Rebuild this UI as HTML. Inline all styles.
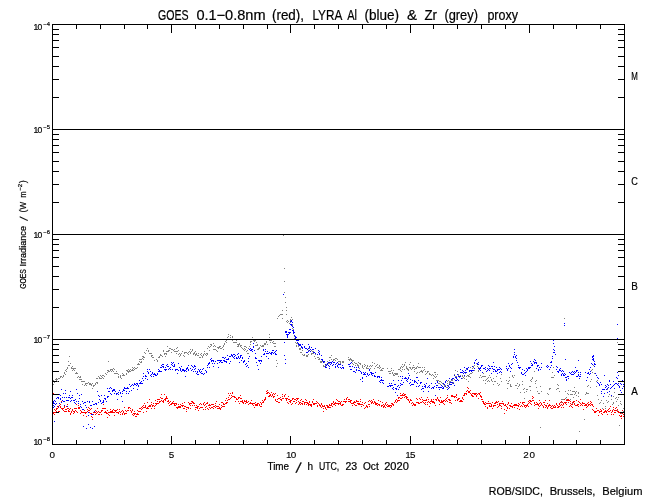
<!DOCTYPE html>
<html><head><meta charset="utf-8"><title>GOES / LYRA proxy</title>
<style>
html,body{margin:0;padding:0;background:#fff;}
svg{display:block;}
text{font-family:"Liberation Sans", sans-serif;fill:#000;stroke:#000;stroke-width:0.2px;}
text.t{stroke-width:0.12px;}
</style></head>
<body>
<svg width="650" height="500" viewBox="0 0 650 500">
<rect width="650" height="500" fill="#fff"/>
<g shape-rendering="crispEdges" fill="none" stroke-width="1">
<path stroke="#000" d="M53 97.5h6M618 97.5h6M53 79.5h6M618 79.5h6M53 66.5h6M618 66.5h6M53 56.5h6M618 56.5h6M53 47.5h6M618 47.5h6M53 40.5h6M618 40.5h6M53 34.5h6M618 34.5h6M53 29.5h6M618 29.5h6M53 202.5h6M618 202.5h6M53 184.5h6M618 184.5h6M53 171.5h6M618 171.5h6M53 161.5h6M618 161.5h6M53 152.5h6M618 152.5h6M53 145.5h6M618 145.5h6M53 139.5h6M618 139.5h6M53 134.5h6M618 134.5h6M53 307.5h6M618 307.5h6M53 289.5h6M618 289.5h6M53 276.5h6M618 276.5h6M53 266.5h6M618 266.5h6M53 257.5h6M618 257.5h6M53 250.5h6M618 250.5h6M53 244.5h6M618 244.5h6M53 239.5h6M618 239.5h6M53 412.5h6M618 412.5h6M53 394.5h6M618 394.5h6M53 381.5h6M618 381.5h6M53 371.5h6M618 371.5h6M53 362.5h6M618 362.5h6M53 355.5h6M618 355.5h6M53 349.5h6M618 349.5h6M53 344.5h6M618 344.5h6M52.5 25v8M52.5 444v-8M76.5 25v4M76.5 444v-4M100.5 25v4M100.5 444v-4M124.5 25v4M124.5 444v-4M147.5 25v4M147.5 444v-4M171.5 25v8M171.5 444v-8M195.5 25v4M195.5 444v-4M219.5 25v4M219.5 444v-4M243.5 25v4M243.5 444v-4M267.5 25v4M267.5 444v-4M290.5 25v8M290.5 444v-8M314.5 25v4M314.5 444v-4M338.5 25v4M338.5 444v-4M362.5 25v4M362.5 444v-4M386.5 25v4M386.5 444v-4M410.5 25v8M410.5 444v-8M433.5 25v4M433.5 444v-4M457.5 25v4M457.5 444v-4M481.5 25v4M481.5 444v-4M505.5 25v4M505.5 444v-4M529.5 25v8M529.5 444v-8M553.5 25v4M553.5 444v-4M576.5 25v4M576.5 444v-4M600.5 25v4M600.5 444v-4M624.5 25v4M624.5 444v-4"/>
<path stroke="#808080" d="M283 235.5h1M284 268.5h1M284 281.5h1M284 292.5h1M285 297.5h1M285 302.5h1M286 307.5h1M282 310.5h1M286 310.5h1M280 314.5h3M286 314.5h1M279 315.5h1M278 316.5h1M291 317.5h1M277 318.5h1M282 318.5h1M564 318.5h1M290 319.5h1M292 319.5h1M287 320.5h1M290 320.5h2M286 321.5h1M288 321.5h1M287 322.5h1M290 322.5h1M289 323.5h1M292 324.5h1M292 325.5h1M292 328.5h1M293 329.5h1M228 334.5h1M269 334.5h1M230 335.5h1M294 335.5h1M228 336.5h1M232 336.5h1M294 336.5h1M227 337.5h1M230 337.5h1M232 337.5h1M252 337.5h1M269 337.5h1M294 338.5h2M225 339.5h1M227 339.5h1M229 339.5h1M231 339.5h1M233 339.5h1M252 339.5h2M268 339.5h2M226 340.5h1M232 340.5h1M236 340.5h1M253 340.5h3M269 340.5h3M225 341.5h1M250 341.5h2M254 341.5h1M266 341.5h1M273 341.5h1M226 342.5h1M233 342.5h4M250 342.5h1M256 342.5h1M266 342.5h1M270 342.5h1M272 342.5h1M295 342.5h1M617 342.5h1M213 343.5h1M224 343.5h1M239 343.5h1M264 343.5h2M273 343.5h3M296 343.5h2M210 344.5h2M224 344.5h1M237 344.5h3M250 344.5h1M257 344.5h1M264 344.5h2M267 344.5h1M211 345.5h1M214 345.5h1M223 345.5h1M238 345.5h1M240 345.5h2M255 345.5h3M260 345.5h1M262 345.5h2M296 345.5h1M298 345.5h1M167 346.5h1M208 346.5h1M210 346.5h1M213 346.5h1M215 346.5h1M219 346.5h2M223 346.5h1M237 346.5h2M240 346.5h1M244 346.5h2M249 346.5h1M261 346.5h3M274 346.5h2M296 346.5h1M298 346.5h1M177 347.5h1M209 347.5h1M217 347.5h3M222 347.5h1M241 347.5h1M246 347.5h1M259 347.5h1M147 348.5h1M169 348.5h2M176 348.5h1M207 348.5h1M218 348.5h1M220 348.5h2M242 348.5h1M244 348.5h1M248 348.5h1M258 348.5h2M299 348.5h2M309 348.5h1M171 349.5h2M174 349.5h1M190 349.5h1M192 349.5h1M213 349.5h3M223 349.5h1M243 349.5h1M245 349.5h1M257 349.5h2M299 349.5h2M146 350.5h1M148 350.5h1M163 350.5h1M168 350.5h2M173 350.5h1M178 350.5h1M192 350.5h1M209 350.5h1M216 350.5h1M244 350.5h1M247 350.5h1M302 350.5h1M308 350.5h1M311 350.5h1M148 351.5h1M163 351.5h1M166 351.5h3M174 351.5h4M182 351.5h1M189 351.5h1M191 351.5h1M195 351.5h1M204 351.5h1M217 351.5h1M246 351.5h1M308 351.5h1M310 351.5h1M312 351.5h2M144 352.5h1M171 352.5h1M184 352.5h3M188 352.5h1M190 352.5h1M194 352.5h1M300 352.5h2M145 353.5h1M149 353.5h3M164 353.5h3M176 353.5h1M179 353.5h1M181 353.5h1M184 353.5h1M187 353.5h1M190 353.5h1M193 353.5h2M196 353.5h1M198 353.5h1M201 353.5h1M204 353.5h1M206 353.5h2M247 353.5h2M311 353.5h3M160 354.5h1M164 354.5h1M166 354.5h1M178 354.5h1M180 354.5h1M188 354.5h1M193 354.5h1M195 354.5h2M200 354.5h1M203 354.5h1M205 354.5h1M207 354.5h1M302 354.5h1M304 354.5h1M308 354.5h1M311 354.5h1M315 354.5h1M151 355.5h2M160 355.5h2M180 355.5h1M183 355.5h1M195 355.5h1M197 355.5h2M201 355.5h1M203 355.5h1M206 355.5h1M303 355.5h2M306 355.5h2M331 355.5h1M69 356.5h1M142 356.5h2M151 356.5h1M159 356.5h1M162 356.5h1M165 356.5h1M179 356.5h1M184 356.5h1M202 356.5h1M306 356.5h2M314 356.5h1M143 357.5h2M152 357.5h2M158 357.5h2M199 357.5h2M202 357.5h1M317 357.5h2M329 357.5h2M348 357.5h1M142 358.5h1M315 358.5h1M319 358.5h1M335 358.5h2M350 358.5h1M139 359.5h3M143 359.5h1M156 359.5h1M318 359.5h2M321 359.5h1M331 359.5h1M333 359.5h2M337 359.5h1M348 359.5h4M154 360.5h1M157 360.5h1M276 360.5h1M329 360.5h1M333 360.5h1M335 360.5h1M349 360.5h1M351 360.5h3M475 360.5h1M68 361.5h1M108 361.5h1M139 361.5h1M141 361.5h1M157 361.5h1M320 361.5h3M327 361.5h1M338 361.5h3M342 361.5h2M352 361.5h1M140 362.5h2M320 362.5h2M324 362.5h1M340 362.5h1M342 362.5h2M354 362.5h1M358 362.5h1M372 362.5h1M405 362.5h1M410 362.5h1M70 363.5h1M138 363.5h1M277 363.5h1M328 363.5h2M338 363.5h1M340 363.5h1M352 363.5h1M355 363.5h2M359 363.5h2M374 363.5h1M418 363.5h1M476 363.5h2M137 364.5h3M325 364.5h3M353 364.5h1M357 364.5h1M360 364.5h1M364 364.5h1M377 364.5h1M402 364.5h1M404 364.5h1M409 364.5h1M68 365.5h2M323 365.5h1M325 365.5h2M355 365.5h1M357 365.5h2M362 365.5h1M365 365.5h1M367 365.5h1M370 365.5h1M372 365.5h1M376 365.5h1M379 365.5h1M404 365.5h1M413 365.5h1M474 365.5h1M593 365.5h1M72 366.5h1M276 366.5h1M323 366.5h2M358 366.5h1M362 366.5h1M364 366.5h1M367 366.5h1M369 366.5h1M371 366.5h1M375 366.5h1M379 366.5h1M401 366.5h1M403 366.5h1M406 366.5h1M417 366.5h1M473 366.5h1M477 366.5h1M67 367.5h1M71 367.5h1M132 367.5h1M134 367.5h1M137 367.5h1M362 367.5h1M366 367.5h1M377 367.5h2M380 367.5h1M400 367.5h1M402 367.5h1M406 367.5h1M409 367.5h2M412 367.5h3M416 367.5h1M418 367.5h3M422 367.5h1M424 367.5h1M470 367.5h1M473 367.5h1M478 367.5h1M553 367.5h1M67 368.5h1M71 368.5h5M113 368.5h1M133 368.5h1M135 368.5h2M359 368.5h1M363 368.5h1M366 368.5h3M370 368.5h1M374 368.5h1M379 368.5h1M382 368.5h2M387 368.5h1M391 368.5h1M400 368.5h1M406 368.5h2M410 368.5h1M412 368.5h1M415 368.5h2M472 368.5h1M474 368.5h1M66 369.5h1M73 369.5h1M110 369.5h3M114 369.5h1M128 369.5h1M130 369.5h1M132 369.5h1M134 369.5h1M381 369.5h1M398 369.5h2M402 369.5h1M404 369.5h1M407 369.5h2M411 369.5h1M414 369.5h1M424 369.5h1M466 369.5h1M592 369.5h1M65 370.5h1M72 370.5h1M74 370.5h1M107 370.5h2M110 370.5h1M112 370.5h1M126 370.5h2M129 370.5h1M131 370.5h3M380 370.5h3M391 370.5h1M393 370.5h1M400 370.5h1M408 370.5h1M421 370.5h1M423 370.5h1M455 370.5h1M471 370.5h1M474 370.5h1M478 370.5h1M591 370.5h1M66 371.5h1M108 371.5h2M111 371.5h1M113 371.5h1M116 371.5h1M127 371.5h4M388 371.5h3M401 371.5h1M414 371.5h1M420 371.5h3M425 371.5h1M427 371.5h2M457 371.5h1M478 371.5h1M534 371.5h1M64 372.5h1M76 372.5h1M107 372.5h1M128 372.5h1M375 372.5h1M392 372.5h1M417 372.5h1M419 372.5h1M422 372.5h1M427 372.5h1M434 372.5h2M472 372.5h1M552 372.5h1M592 372.5h1M64 373.5h1M75 373.5h3M105 373.5h1M114 373.5h4M122 373.5h1M126 373.5h1M389 373.5h2M392 373.5h1M394 373.5h4M416 373.5h1M426 373.5h1M429 373.5h1M465 373.5h1M470 373.5h2M483 373.5h1M594 373.5h2M65 374.5h1M106 374.5h1M118 374.5h1M123 374.5h1M126 374.5h1M393 374.5h1M395 374.5h3M425 374.5h1M429 374.5h2M432 374.5h1M435 374.5h1M437 374.5h1M454 374.5h1M458 374.5h1M469 374.5h1M501 374.5h1M63 375.5h1M100 375.5h1M102 375.5h2M120 375.5h1M122 375.5h3M393 375.5h2M431 375.5h1M433 375.5h1M458 375.5h1M460 375.5h1M462 375.5h1M464 375.5h1M467 375.5h2M480 375.5h1M489 375.5h1M512 375.5h1M514 375.5h1M554 375.5h1M60 376.5h2M63 376.5h1M78 376.5h1M80 376.5h1M98 376.5h1M101 376.5h1M104 376.5h1M118 376.5h1M120 376.5h1M398 376.5h1M434 376.5h1M436 376.5h1M455 376.5h2M459 376.5h1M462 376.5h1M464 376.5h1M466 376.5h1M468 376.5h2M482 376.5h4M496 376.5h1M512 376.5h1M60 377.5h1M62 377.5h1M77 377.5h1M79 377.5h2M99 377.5h1M102 377.5h1M118 377.5h1M120 377.5h1M435 377.5h1M459 377.5h1M463 377.5h1M470 377.5h1M479 377.5h1M481 377.5h1M488 377.5h1M490 377.5h1M509 377.5h1M513 377.5h1M532 377.5h1M551 377.5h3M56 378.5h1M58 378.5h2M96 378.5h2M99 378.5h3M103 378.5h1M121 378.5h1M433 378.5h1M461 378.5h2M464 378.5h1M487 378.5h1M493 378.5h1M500 378.5h1M532 378.5h1M55 379.5h3M79 379.5h3M452 379.5h1M454 379.5h1M466 379.5h1M486 379.5h1M491 379.5h1M531 379.5h1M591 379.5h1M53 380.5h1M56 380.5h1M436 380.5h3M446 380.5h1M448 380.5h1M451 380.5h2M483 380.5h1M485 380.5h1M488 380.5h1M491 380.5h1M506 380.5h1M509 380.5h1M530 380.5h1M536 380.5h1M597 380.5h1M57 381.5h1M81 381.5h4M439 381.5h2M447 381.5h1M449 381.5h2M468 381.5h1M487 381.5h1M489 381.5h1M492 381.5h1M494 381.5h2M501 381.5h1M508 381.5h1M522 381.5h1M531 381.5h1M535 381.5h1M590 381.5h1M596 381.5h1M54 382.5h1M88 382.5h1M96 382.5h2M437 382.5h1M441 382.5h1M449 382.5h3M453 382.5h1M85 383.5h3M89 383.5h2M92 383.5h1M95 383.5h1M97 383.5h1M438 383.5h2M442 383.5h1M447 383.5h1M449 383.5h1M452 383.5h1M485 383.5h1M497 383.5h1M507 383.5h2M517 383.5h1M535 383.5h1M53 384.5h1M82 384.5h1M85 384.5h1M89 384.5h3M95 384.5h1M440 384.5h1M443 384.5h1M493 384.5h1M499 384.5h1M510 384.5h1M519 384.5h1M522 384.5h1M557 384.5h1M84 385.5h1M86 385.5h1M91 385.5h1M93 385.5h2M441 385.5h1M444 385.5h2M448 385.5h1M498 385.5h1M510 385.5h1M515 385.5h2M519 385.5h1M558 385.5h1M588 385.5h1M93 386.5h1M444 386.5h1M510 386.5h2M518 386.5h1M529 386.5h2M540 386.5h1M587 386.5h1M596 386.5h1M446 387.5h2M536 387.5h1M574 387.5h1M590 387.5h1M92 388.5h1M443 388.5h1M507 388.5h1M517 388.5h1M524 388.5h1M549 388.5h2M557 388.5h2M523 389.5h1M526 389.5h2M549 389.5h1M556 389.5h1M607 389.5h1M530 390.5h1M568 390.5h1M570 390.5h1M526 391.5h1M537 391.5h1M541 391.5h1M559 391.5h1M565 391.5h1M572 391.5h3M576 391.5h1M520 392.5h1M524 392.5h1M575 392.5h1M578 392.5h1M586 392.5h1M614 392.5h1M538 393.5h2M547 393.5h1M567 393.5h1M575 393.5h1M578 393.5h1M586 393.5h3M548 394.5h1M568 394.5h1M570 394.5h3M574 394.5h1M585 394.5h1M609 394.5h1M576 395.5h1M597 395.5h1M578 396.5h1M608 396.5h1M611 396.5h1M613 396.5h1M566 397.5h1M573 397.5h1M616 397.5h1M618 397.5h1M524 398.5h1M565 398.5h1M615 398.5h1M561 399.5h4M566 399.5h1M568 399.5h1M570 399.5h1M580 399.5h1M598 399.5h1M611 399.5h1M617 399.5h1M601 400.5h1M606 400.5h1M608 401.5h1M616 401.5h1M620 401.5h1M561 402.5h2M600 402.5h1M607 402.5h1M613 402.5h1M572 403.5h1M580 403.5h1M599 403.5h1M603 403.5h1M613 403.5h1M620 403.5h1M612 404.5h1M621 404.5h1M618 405.5h1M605 406.5h1M602 408.5h1M605 408.5h1M623 408.5h1M617 410.5h1M623 411.5h1M621 413.5h1M584 419.5h1M619 425.5h1M540 427.5h1M579 431.5h1"/>
<path stroke="#0000ff" d="M283 294.5h1M291 320.5h1M290 321.5h2M292 322.5h1M564 323.5h1M290 324.5h2M617 324.5h1M291 325.5h1M564 325.5h1M292 326.5h1M293 327.5h1M289 329.5h2M292 330.5h2M285 331.5h2M293 331.5h1M285 332.5h2M288 332.5h3M293 332.5h2M289 333.5h1M293 333.5h1M286 334.5h3M287 335.5h1M294 335.5h1M287 336.5h1M295 336.5h1M287 337.5h1M295 337.5h2M295 338.5h1M617 338.5h1M296 340.5h3M553 340.5h1M284 342.5h1M297 342.5h1M253 343.5h1M298 343.5h1M553 343.5h1M298 344.5h3M302 344.5h1M308 344.5h1M299 345.5h2M253 346.5h1M301 346.5h1M304 346.5h1M309 346.5h1M554 346.5h1M253 347.5h1M301 347.5h2M304 347.5h1M309 347.5h1M311 347.5h1M250 348.5h1M302 348.5h1M305 348.5h2M308 348.5h1M315 348.5h1M249 349.5h1M251 349.5h2M263 349.5h1M265 349.5h1M307 349.5h1M310 349.5h1M312 349.5h2M514 349.5h1M553 349.5h1M250 350.5h2M254 350.5h1M263 350.5h1M272 350.5h2M276 350.5h1M309 350.5h1M318 350.5h1M554 350.5h1M252 351.5h1M265 351.5h1M267 351.5h1M275 351.5h1M308 351.5h1M310 351.5h1M319 351.5h1M269 352.5h1M271 352.5h2M274 352.5h1M306 352.5h2M313 352.5h2M318 352.5h1M514 352.5h1M553 352.5h2M238 353.5h1M255 353.5h1M264 353.5h1M266 353.5h3M270 353.5h2M273 353.5h1M275 353.5h1M315 353.5h1M319 353.5h1M231 354.5h1M233 354.5h2M237 354.5h1M263 354.5h2M271 354.5h1M275 354.5h2M317 354.5h1M319 354.5h1M514 354.5h1M555 354.5h1M227 355.5h1M231 355.5h2M235 355.5h1M240 355.5h2M284 355.5h1M321 355.5h1M516 355.5h1M593 355.5h1M229 356.5h2M232 356.5h1M234 356.5h1M238 356.5h1M240 356.5h1M249 356.5h1M261 356.5h1M266 356.5h1M513 356.5h1M515 356.5h1M552 356.5h1M592 356.5h2M222 357.5h2M225 357.5h1M233 357.5h1M236 357.5h1M238 357.5h1M240 357.5h1M242 357.5h1M255 357.5h1M513 357.5h1M515 357.5h1M592 357.5h1M211 358.5h1M224 358.5h1M228 358.5h1M234 358.5h1M236 358.5h2M239 358.5h1M242 358.5h1M248 358.5h1M255 358.5h2M268 358.5h1M516 358.5h1M552 358.5h1M593 358.5h1M210 359.5h1M226 359.5h3M285 359.5h1M321 359.5h2M476 359.5h1M534 359.5h1M565 359.5h1M592 359.5h2M211 360.5h3M217 360.5h5M223 360.5h2M241 360.5h1M244 360.5h1M258 360.5h4M322 360.5h1M475 360.5h1M516 360.5h1M535 360.5h1M578 360.5h1M593 360.5h1M211 361.5h1M213 361.5h1M215 361.5h1M220 361.5h1M224 361.5h3M230 361.5h1M243 361.5h2M248 361.5h1M259 361.5h1M261 361.5h1M323 361.5h2M332 361.5h1M530 361.5h1M533 361.5h1M551 361.5h1M594 361.5h1M171 362.5h1M173 362.5h1M209 362.5h1M219 362.5h1M221 362.5h2M226 362.5h1M239 362.5h1M243 362.5h1M256 362.5h1M323 362.5h1M328 362.5h4M333 362.5h2M337 362.5h1M351 362.5h1M474 362.5h1M478 362.5h1M493 362.5h1M517 362.5h1M534 362.5h3M550 362.5h2M172 363.5h1M178 363.5h1M208 363.5h2M212 363.5h1M214 363.5h1M217 363.5h1M229 363.5h1M246 363.5h1M260 363.5h1M285 363.5h1M327 363.5h1M331 363.5h1M336 363.5h1M350 363.5h1M474 363.5h1M477 363.5h1M508 363.5h1M512 363.5h1M531 363.5h1M534 363.5h1M536 363.5h1M541 363.5h1M591 363.5h1M594 363.5h1M162 364.5h2M167 364.5h1M171 364.5h1M174 364.5h1M208 364.5h1M245 364.5h1M325 364.5h1M327 364.5h1M330 364.5h1M333 364.5h1M335 364.5h1M338 364.5h3M348 364.5h2M477 364.5h2M511 364.5h1M532 364.5h1M592 364.5h1M594 364.5h2M161 365.5h1M166 365.5h1M172 365.5h1M174 365.5h1M188 365.5h1M191 365.5h1M194 365.5h1M207 365.5h1M247 365.5h1M257 365.5h1M326 365.5h1M328 365.5h1M332 365.5h1M337 365.5h1M342 365.5h1M481 365.5h2M488 365.5h1M509 365.5h1M518 365.5h1M531 365.5h2M537 365.5h2M547 365.5h1M551 365.5h1M162 366.5h2M167 366.5h2M173 366.5h2M181 366.5h1M192 366.5h1M194 366.5h2M213 366.5h1M246 366.5h1M325 366.5h1M329 366.5h1M335 366.5h1M337 366.5h1M349 366.5h2M352 366.5h1M472 366.5h1M481 366.5h1M489 366.5h1M491 366.5h2M494 366.5h1M506 366.5h1M509 366.5h1M537 366.5h1M546 366.5h1M548 366.5h1M556 366.5h1M594 366.5h1M160 367.5h2M163 367.5h1M165 367.5h1M170 367.5h1M179 367.5h1M187 367.5h1M193 367.5h1M207 367.5h1M209 367.5h1M218 367.5h1M248 367.5h1M325 367.5h2M335 367.5h1M338 367.5h1M340 367.5h1M342 367.5h2M354 367.5h1M356 367.5h1M358 367.5h1M464 367.5h1M468 367.5h1M480 367.5h1M485 367.5h1M496 367.5h1M499 367.5h1M510 367.5h1M518 367.5h3M528 367.5h3M539 367.5h1M541 367.5h1M547 367.5h1M550 367.5h1M557 367.5h1M575 367.5h1M590 367.5h1M169 368.5h1M180 368.5h1M186 368.5h2M190 368.5h1M195 368.5h1M203 368.5h1M329 368.5h1M341 368.5h1M343 368.5h1M466 368.5h2M474 368.5h1M478 368.5h3M483 368.5h2M487 368.5h1M489 368.5h2M492 368.5h1M500 368.5h1M506 368.5h1M508 368.5h1M511 368.5h1M519 368.5h1M526 368.5h1M528 368.5h2M536 368.5h1M560 368.5h1M147 369.5h1M149 369.5h1M158 369.5h1M164 369.5h3M168 369.5h1M170 369.5h1M172 369.5h1M175 369.5h3M180 369.5h1M182 369.5h2M186 369.5h1M188 369.5h1M192 369.5h1M194 369.5h1M198 369.5h1M200 369.5h1M202 369.5h1M258 369.5h1M350 369.5h2M356 369.5h1M369 369.5h1M460 369.5h1M467 369.5h1M479 369.5h1M485 369.5h1M488 369.5h1M493 369.5h2M497 369.5h3M501 369.5h1M507 369.5h1M522 369.5h1M527 369.5h1M538 369.5h1M540 369.5h1M549 369.5h1M556 369.5h1M559 369.5h1M589 369.5h1M159 370.5h1M165 370.5h1M175 370.5h1M178 370.5h1M180 370.5h1M182 370.5h4M188 370.5h1M191 370.5h1M199 370.5h1M205 370.5h1M356 370.5h1M358 370.5h2M369 370.5h1M462 370.5h1M465 370.5h1M469 370.5h5M480 370.5h1M487 370.5h1M489 370.5h1M495 370.5h1M497 370.5h1M507 370.5h1M524 370.5h1M527 370.5h1M538 370.5h1M559 370.5h2M562 370.5h1M576 370.5h2M147 371.5h1M150 371.5h1M158 371.5h4M181 371.5h1M184 371.5h1M186 371.5h1M193 371.5h1M195 371.5h1M197 371.5h1M199 371.5h1M201 371.5h1M206 371.5h1M353 371.5h2M360 371.5h1M463 371.5h1M469 371.5h1M471 371.5h1M486 371.5h1M493 371.5h1M495 371.5h2M500 371.5h1M510 371.5h1M526 371.5h1M557 371.5h2M561 371.5h1M563 371.5h1M572 371.5h1M574 371.5h1M576 371.5h1M590 371.5h1M148 372.5h1M152 372.5h1M197 372.5h1M200 372.5h1M206 372.5h1M355 372.5h1M361 372.5h1M363 372.5h1M365 372.5h1M370 372.5h2M375 372.5h1M460 372.5h3M464 372.5h3M482 372.5h1M499 372.5h1M501 372.5h1M521 372.5h1M525 372.5h1M558 372.5h1M569 372.5h1M571 372.5h1M573 372.5h1M575 372.5h1M578 372.5h1M580 372.5h1M585 372.5h1M588 372.5h1M617 372.5h1M143 373.5h1M148 373.5h1M152 373.5h1M154 373.5h1M157 373.5h1M177 373.5h1M196 373.5h1M201 373.5h2M204 373.5h1M361 373.5h1M364 373.5h1M367 373.5h1M371 373.5h3M408 373.5h1M463 373.5h1M491 373.5h1M497 373.5h1M521 373.5h1M524 373.5h1M562 373.5h1M564 373.5h1M570 373.5h1M574 373.5h1M587 373.5h2M590 373.5h1M595 373.5h1M151 374.5h1M153 374.5h3M157 374.5h1M197 374.5h2M203 374.5h1M363 374.5h3M367 374.5h1M369 374.5h1M371 374.5h1M457 374.5h1M522 374.5h2M561 374.5h1M563 374.5h1M565 374.5h1M571 374.5h3M578 374.5h1M580 374.5h1M589 374.5h1M145 375.5h1M150 375.5h1M155 375.5h2M368 375.5h1M372 375.5h1M374 375.5h1M409 375.5h1M454 375.5h1M464 375.5h1M525 375.5h1M561 375.5h1M563 375.5h2M578 375.5h1M596 375.5h1M604 375.5h1M618 375.5h1M143 376.5h1M145 376.5h2M151 376.5h1M153 376.5h1M185 376.5h1M366 376.5h1M374 376.5h2M377 376.5h3M400 376.5h1M402 376.5h1M458 376.5h3M567 376.5h2M576 376.5h2M579 376.5h2M362 377.5h1M377 377.5h1M379 377.5h1M381 377.5h1M405 377.5h1M408 377.5h1M416 377.5h2M455 377.5h2M565 377.5h2M587 377.5h1M597 377.5h1M616 377.5h1M142 378.5h1M145 378.5h1M362 378.5h1M402 378.5h1M404 378.5h3M408 378.5h1M427 378.5h1M449 378.5h1M452 378.5h2M456 378.5h1M461 378.5h1M568 378.5h1M579 378.5h1M598 378.5h1M617 378.5h1M147 379.5h1M360 379.5h1M381 379.5h1M407 379.5h1M410 379.5h1M451 379.5h1M457 379.5h1M566 379.5h1M139 380.5h1M143 380.5h1M380 380.5h4M393 380.5h1M398 380.5h1M401 380.5h1M406 380.5h1M412 380.5h1M414 380.5h1M418 380.5h1M446 380.5h1M455 380.5h2M458 380.5h1M566 380.5h1M586 380.5h1M609 380.5h1M622 380.5h1M141 381.5h1M362 381.5h1M379 381.5h1M407 381.5h1M414 381.5h2M437 381.5h1M445 381.5h1M609 381.5h1M613 381.5h1M140 382.5h1M380 382.5h1M382 382.5h1M403 382.5h1M410 382.5h1M414 382.5h1M416 382.5h1M420 382.5h2M437 382.5h1M445 382.5h1M450 382.5h3M597 382.5h1M600 382.5h1M134 383.5h1M136 383.5h2M139 383.5h4M383 383.5h1M389 383.5h1M391 383.5h1M400 383.5h1M409 383.5h1M417 383.5h1M420 383.5h1M426 383.5h1M431 383.5h1M435 383.5h1M443 383.5h1M453 383.5h1M598 383.5h1M615 383.5h2M618 383.5h1M620 383.5h1M129 384.5h1M132 384.5h1M134 384.5h2M137 384.5h1M394 384.5h2M401 384.5h2M411 384.5h3M424 384.5h1M444 384.5h1M449 384.5h3M599 384.5h1M601 384.5h1M607 384.5h1M610 384.5h1M614 384.5h1M617 384.5h1M621 384.5h1M623 384.5h1M131 385.5h1M133 385.5h1M136 385.5h1M138 385.5h1M389 385.5h4M398 385.5h1M400 385.5h1M410 385.5h1M419 385.5h1M425 385.5h1M429 385.5h1M436 385.5h2M441 385.5h1M447 385.5h1M454 385.5h1M599 385.5h1M605 385.5h1M608 385.5h1M613 385.5h1M618 385.5h1M130 386.5h1M138 386.5h1M387 386.5h2M390 386.5h1M397 386.5h1M416 386.5h1M418 386.5h1M422 386.5h1M424 386.5h2M428 386.5h1M434 386.5h1M442 386.5h1M445 386.5h1M448 386.5h1M606 386.5h1M612 386.5h1M619 386.5h1M623 386.5h1M110 387.5h1M124 387.5h1M127 387.5h1M393 387.5h1M399 387.5h1M425 387.5h1M427 387.5h1M429 387.5h1M432 387.5h2M436 387.5h1M438 387.5h4M443 387.5h1M449 387.5h1M605 387.5h1M608 387.5h1M611 387.5h1M619 387.5h1M107 388.5h1M109 388.5h1M111 388.5h1M124 388.5h5M133 388.5h1M392 388.5h1M395 388.5h2M422 388.5h2M431 388.5h1M433 388.5h1M442 388.5h2M448 388.5h1M607 388.5h1M610 388.5h1M614 388.5h1M622 388.5h1M61 389.5h1M76 389.5h1M113 389.5h2M123 389.5h1M137 389.5h1M393 389.5h1M396 389.5h1M398 389.5h1M421 389.5h1M439 389.5h1M447 389.5h1M602 389.5h3M606 389.5h1M65 390.5h1M112 390.5h3M119 390.5h1M123 390.5h2M131 390.5h1M620 390.5h1M70 391.5h1M97 391.5h1M108 391.5h2M112 391.5h1M115 391.5h1M122 391.5h1M126 391.5h1M129 391.5h1M423 391.5h1M428 391.5h1M601 391.5h1M609 391.5h1M118 392.5h1M120 392.5h1M395 392.5h1M607 392.5h1M621 392.5h1M63 393.5h1M65 393.5h1M77 393.5h1M110 393.5h1M114 393.5h1M116 393.5h2M120 393.5h1M122 393.5h1M126 393.5h1M128 393.5h1M601 393.5h1M604 393.5h1M59 394.5h1M81 394.5h1M111 394.5h1M116 394.5h1M118 394.5h1M60 395.5h1M69 395.5h1M72 395.5h1M79 395.5h1M98 395.5h1M101 395.5h1M104 395.5h1M397 395.5h1M435 395.5h1M611 395.5h1M99 396.5h1M107 396.5h2M121 396.5h1M603 396.5h1M57 397.5h2M62 397.5h1M64 397.5h1M66 397.5h1M68 397.5h2M71 397.5h2M107 397.5h1M56 398.5h1M58 398.5h1M60 398.5h1M70 398.5h1M79 398.5h1M104 398.5h2M60 399.5h1M75 399.5h1M99 399.5h1M105 399.5h1M117 399.5h1M54 400.5h1M62 400.5h1M66 400.5h3M71 400.5h1M73 400.5h2M100 400.5h1M103 400.5h1M53 401.5h1M55 401.5h1M63 401.5h2M70 401.5h1M76 401.5h1M78 401.5h1M82 401.5h1M87 401.5h1M89 401.5h1M92 401.5h1M100 401.5h1M103 401.5h1M106 401.5h1M122 401.5h1M53 402.5h1M61 402.5h1M74 402.5h1M84 402.5h2M89 402.5h1M98 402.5h1M102 402.5h2M53 403.5h2M56 403.5h1M59 403.5h1M75 403.5h1M78 403.5h1M83 403.5h1M95 403.5h2M101 403.5h1M55 404.5h1M76 404.5h1M80 404.5h1M93 404.5h2M96 404.5h1M53 405.5h1M64 405.5h1M85 405.5h1M90 405.5h2M54 406.5h1M57 406.5h2M67 406.5h1M80 406.5h1M53 407.5h1M81 407.5h1M86 407.5h1M56 408.5h1M91 408.5h1M82 409.5h2M94 411.5h1M88 412.5h1M90 413.5h1M91 414.5h2M88 415.5h1M54 421.5h1M88 424.5h1M83 426.5h1M94 426.5h1M90 427.5h1M86 428.5h1M92 428.5h1"/>
<path stroke="#ff0000" d="M467 387.5h1M468 388.5h1M267 390.5h1M467 390.5h1M470 390.5h1M266 391.5h1M466 391.5h1M468 391.5h2M232 392.5h1M267 392.5h2M271 392.5h1M468 392.5h2M480 392.5h1M53 393.5h1M228 393.5h1M230 393.5h1M232 393.5h1M266 393.5h2M269 393.5h1M273 393.5h1M275 393.5h1M400 393.5h1M403 393.5h1M464 393.5h3M470 393.5h1M472 393.5h5M478 393.5h2M161 394.5h1M164 394.5h1M270 394.5h1M272 394.5h1M274 394.5h1M282 394.5h1M285 394.5h1M402 394.5h1M404 394.5h2M456 394.5h1M464 394.5h1M466 394.5h1M471 394.5h1M474 394.5h2M477 394.5h1M479 394.5h1M229 395.5h1M231 395.5h1M240 395.5h1M269 395.5h2M272 395.5h1M277 395.5h1M284 395.5h1M400 395.5h5M447 395.5h1M451 395.5h2M456 395.5h1M463 395.5h2M471 395.5h2M476 395.5h1M480 395.5h1M166 396.5h1M232 396.5h3M268 396.5h2M271 396.5h1M273 396.5h2M282 396.5h1M284 396.5h1M288 396.5h1M405 396.5h2M451 396.5h5M472 396.5h2M476 396.5h1M480 396.5h2M532 396.5h1M160 397.5h1M166 397.5h1M228 397.5h1M231 397.5h1M234 397.5h2M238 397.5h2M265 397.5h1M273 397.5h1M280 397.5h1M347 397.5h1M398 397.5h2M402 397.5h1M404 397.5h1M406 397.5h2M421 397.5h1M427 397.5h1M437 397.5h1M440 397.5h1M447 397.5h1M454 397.5h1M456 397.5h1M462 397.5h1M481 397.5h1M533 397.5h1M161 398.5h2M165 398.5h3M226 398.5h1M230 398.5h1M236 398.5h1M238 398.5h1M240 398.5h2M265 398.5h1M278 398.5h2M282 398.5h2M285 398.5h3M292 398.5h2M296 398.5h3M346 398.5h1M398 398.5h1M400 398.5h2M406 398.5h1M416 398.5h1M419 398.5h1M437 398.5h1M446 398.5h1M458 398.5h2M462 398.5h1M478 398.5h1M532 398.5h1M149 399.5h1M157 399.5h3M164 399.5h2M228 399.5h2M236 399.5h2M264 399.5h2M275 399.5h1M277 399.5h1M280 399.5h2M286 399.5h1M288 399.5h2M292 399.5h1M294 399.5h2M297 399.5h1M301 399.5h1M305 399.5h1M313 399.5h1M336 399.5h1M344 399.5h1M346 399.5h1M348 399.5h2M360 399.5h1M373 399.5h1M396 399.5h1M407 399.5h2M410 399.5h1M417 399.5h1M420 399.5h1M422 399.5h1M426 399.5h1M428 399.5h1M431 399.5h1M433 399.5h1M435 399.5h2M438 399.5h1M445 399.5h1M448 399.5h2M457 399.5h2M463 399.5h1M481 399.5h2M564 399.5h1M567 399.5h2M580 399.5h1M155 400.5h1M161 400.5h1M163 400.5h1M165 400.5h1M168 400.5h1M225 400.5h1M227 400.5h1M242 400.5h1M244 400.5h1M246 400.5h1M251 400.5h1M262 400.5h1M264 400.5h1M275 400.5h1M281 400.5h1M286 400.5h1M290 400.5h2M296 400.5h1M300 400.5h1M306 400.5h1M337 400.5h1M350 400.5h2M356 400.5h1M369 400.5h1M371 400.5h1M378 400.5h1M395 400.5h1M397 400.5h3M408 400.5h1M410 400.5h2M423 400.5h4M431 400.5h1M436 400.5h1M438 400.5h2M441 400.5h1M443 400.5h2M446 400.5h1M449 400.5h2M455 400.5h1M457 400.5h1M460 400.5h2M529 400.5h2M532 400.5h2M539 400.5h1M545 400.5h1M549 400.5h1M566 400.5h4M576 400.5h1M61 401.5h1M157 401.5h1M159 401.5h2M162 401.5h2M167 401.5h2M170 401.5h1M173 401.5h1M191 401.5h2M216 401.5h1M235 401.5h1M238 401.5h1M240 401.5h3M244 401.5h3M248 401.5h1M263 401.5h1M276 401.5h2M289 401.5h2M293 401.5h2M298 401.5h1M302 401.5h2M309 401.5h1M312 401.5h1M316 401.5h1M333 401.5h1M338 401.5h2M341 401.5h1M343 401.5h4M348 401.5h3M354 401.5h1M356 401.5h3M360 401.5h1M368 401.5h1M370 401.5h1M372 401.5h1M374 401.5h1M380 401.5h1M395 401.5h1M397 401.5h1M409 401.5h1M422 401.5h1M428 401.5h1M430 401.5h4M439 401.5h1M441 401.5h3M445 401.5h1M447 401.5h1M459 401.5h4M482 401.5h2M488 401.5h1M496 401.5h1M498 401.5h1M502 401.5h1M528 401.5h1M530 401.5h2M561 401.5h1M570 401.5h1M573 401.5h2M578 401.5h1M590 401.5h1M147 402.5h1M151 402.5h1M159 402.5h1M163 402.5h1M169 402.5h1M172 402.5h1M184 402.5h1M188 402.5h1M192 402.5h2M204 402.5h1M207 402.5h1M221 402.5h2M226 402.5h2M242 402.5h2M246 402.5h2M250 402.5h1M255 402.5h1M260 402.5h1M262 402.5h2M278 402.5h2M287 402.5h1M290 402.5h1M296 402.5h1M299 402.5h2M304 402.5h4M309 402.5h1M312 402.5h1M317 402.5h1M333 402.5h1M335 402.5h1M340 402.5h1M345 402.5h1M350 402.5h1M353 402.5h3M362 402.5h1M365 402.5h1M371 402.5h2M374 402.5h2M382 402.5h1M386 402.5h1M394 402.5h1M396 402.5h1M409 402.5h1M412 402.5h1M416 402.5h3M420 402.5h2M423 402.5h1M425 402.5h1M427 402.5h1M429 402.5h1M432 402.5h3M440 402.5h3M449 402.5h2M483 402.5h1M485 402.5h1M492 402.5h1M495 402.5h3M508 402.5h1M520 402.5h1M522 402.5h3M529 402.5h1M534 402.5h1M536 402.5h1M540 402.5h1M543 402.5h2M560 402.5h1M562 402.5h1M564 402.5h3M568 402.5h1M572 402.5h2M579 402.5h1M582 402.5h1M588 402.5h1M591 402.5h1M144 403.5h1M153 403.5h1M155 403.5h4M168 403.5h1M171 403.5h6M182 403.5h1M189 403.5h3M193 403.5h2M200 403.5h1M203 403.5h1M206 403.5h2M215 403.5h1M223 403.5h1M225 403.5h2M239 403.5h1M243 403.5h1M245 403.5h1M249 403.5h6M257 403.5h2M261 403.5h1M288 403.5h1M292 403.5h1M295 403.5h1M299 403.5h1M301 403.5h2M304 403.5h1M307 403.5h2M313 403.5h4M318 403.5h1M321 403.5h1M331 403.5h2M334 403.5h7M351 403.5h3M357 403.5h3M364 403.5h1M371 403.5h1M373 403.5h1M375 403.5h3M385 403.5h1M391 403.5h2M411 403.5h1M413 403.5h1M418 403.5h2M424 403.5h1M430 403.5h1M434 403.5h1M443 403.5h1M451 403.5h1M483 403.5h2M486 403.5h5M494 403.5h2M499 403.5h5M508 403.5h1M511 403.5h1M518 403.5h1M522 403.5h1M528 403.5h1M530 403.5h1M534 403.5h1M537 403.5h1M539 403.5h1M541 403.5h1M547 403.5h1M556 403.5h1M559 403.5h1M563 403.5h1M565 403.5h1M570 403.5h1M574 403.5h1M580 403.5h1M582 403.5h3M587 403.5h1M590 403.5h1M60 404.5h1M67 404.5h1M76 404.5h1M103 404.5h1M151 404.5h1M156 404.5h1M170 404.5h2M174 404.5h1M176 404.5h1M178 404.5h1M180 404.5h1M189 404.5h1M199 404.5h1M201 404.5h1M203 404.5h1M205 404.5h1M209 404.5h1M211 404.5h3M219 404.5h1M223 404.5h2M248 404.5h1M252 404.5h1M255 404.5h3M259 404.5h1M261 404.5h1M291 404.5h1M298 404.5h1M300 404.5h1M302 404.5h1M304 404.5h1M306 404.5h1M308 404.5h4M313 404.5h2M319 404.5h1M321 404.5h1M329 404.5h1M331 404.5h1M333 404.5h2M338 404.5h1M340 404.5h1M342 404.5h2M354 404.5h1M358 404.5h5M368 404.5h2M375 404.5h2M378 404.5h2M383 404.5h1M385 404.5h1M387 404.5h1M392 404.5h2M413 404.5h3M425 404.5h1M427 404.5h1M439 404.5h1M444 404.5h1M484 404.5h2M491 404.5h1M497 404.5h1M499 404.5h1M503 404.5h1M505 404.5h1M507 404.5h1M514 404.5h3M519 404.5h1M523 404.5h1M527 404.5h1M531 404.5h1M535 404.5h4M541 404.5h1M544 404.5h1M549 404.5h1M556 404.5h1M559 404.5h1M561 404.5h1M563 404.5h1M566 404.5h1M571 404.5h2M574 404.5h1M577 404.5h2M581 404.5h1M585 404.5h2M588 404.5h2M591 404.5h2M59 405.5h1M78 405.5h1M143 405.5h1M145 405.5h1M149 405.5h2M152 405.5h2M155 405.5h1M169 405.5h1M174 405.5h2M181 405.5h3M190 405.5h1M192 405.5h1M194 405.5h1M196 405.5h1M204 405.5h1M208 405.5h3M215 405.5h1M221 405.5h1M253 405.5h1M255 405.5h3M259 405.5h1M308 405.5h1M310 405.5h2M317 405.5h1M319 405.5h2M322 405.5h1M324 405.5h1M326 405.5h2M329 405.5h3M335 405.5h1M341 405.5h2M352 405.5h1M355 405.5h2M363 405.5h1M366 405.5h1M377 405.5h1M379 405.5h1M381 405.5h2M384 405.5h1M386 405.5h1M388 405.5h4M393 405.5h1M412 405.5h1M414 405.5h2M435 405.5h1M489 405.5h1M491 405.5h1M493 405.5h3M499 405.5h2M504 405.5h2M509 405.5h2M513 405.5h6M521 405.5h1M524 405.5h4M534 405.5h1M538 405.5h1M540 405.5h1M542 405.5h1M545 405.5h2M548 405.5h3M552 405.5h1M554 405.5h1M557 405.5h1M560 405.5h1M562 405.5h1M570 405.5h1M575 405.5h3M580 405.5h1M582 405.5h1M584 405.5h3M588 405.5h1M590 405.5h1M592 405.5h1M57 406.5h1M60 406.5h1M64 406.5h1M66 406.5h1M142 406.5h1M145 406.5h1M148 406.5h3M152 406.5h1M154 406.5h1M178 406.5h3M182 406.5h1M184 406.5h2M197 406.5h2M206 406.5h1M213 406.5h2M216 406.5h3M222 406.5h3M260 406.5h2M311 406.5h1M317 406.5h1M320 406.5h1M322 406.5h3M327 406.5h2M332 406.5h1M361 406.5h1M366 406.5h2M369 406.5h1M381 406.5h1M383 406.5h2M387 406.5h3M391 406.5h1M429 406.5h1M485 406.5h1M489 406.5h3M493 406.5h1M498 406.5h1M501 406.5h1M506 406.5h1M510 406.5h3M518 406.5h1M520 406.5h1M522 406.5h1M524 406.5h1M526 406.5h1M528 406.5h1M539 406.5h1M543 406.5h1M546 406.5h1M548 406.5h1M551 406.5h1M553 406.5h1M555 406.5h1M558 406.5h2M569 406.5h1M571 406.5h1M578 406.5h1M587 406.5h1M593 406.5h1M610 406.5h1M58 407.5h1M60 407.5h1M64 407.5h1M78 407.5h2M88 407.5h1M124 407.5h1M128 407.5h2M141 407.5h1M143 407.5h3M147 407.5h1M176 407.5h5M186 407.5h3M195 407.5h3M200 407.5h3M205 407.5h1M209 407.5h1M211 407.5h2M215 407.5h1M219 407.5h1M221 407.5h1M254 407.5h1M321 407.5h1M325 407.5h1M327 407.5h4M365 407.5h1M367 407.5h1M383 407.5h1M385 407.5h1M390 407.5h1M487 407.5h1M497 407.5h1M507 407.5h1M512 407.5h1M514 407.5h1M525 407.5h1M543 407.5h1M545 407.5h1M547 407.5h1M550 407.5h1M553 407.5h3M557 407.5h2M561 407.5h1M563 407.5h1M572 407.5h1M586 407.5h1M613 407.5h1M616 407.5h1M56 408.5h2M61 408.5h3M67 408.5h2M70 408.5h1M74 408.5h3M78 408.5h2M89 408.5h1M91 408.5h1M97 408.5h1M102 408.5h4M128 408.5h1M130 408.5h1M139 408.5h2M142 408.5h1M146 408.5h3M151 408.5h1M154 408.5h1M177 408.5h1M183 408.5h2M188 408.5h1M190 408.5h1M197 408.5h1M199 408.5h1M207 408.5h1M210 408.5h1M213 408.5h1M217 408.5h4M323 408.5h1M325 408.5h1M364 408.5h1M487 408.5h1M492 408.5h1M501 408.5h1M507 408.5h1M509 408.5h1M517 408.5h1M538 408.5h1M547 408.5h1M551 408.5h2M596 408.5h1M609 408.5h1M615 408.5h1M54 409.5h1M56 409.5h1M62 409.5h1M65 409.5h2M69 409.5h1M72 409.5h1M87 409.5h1M90 409.5h1M110 409.5h1M113 409.5h1M117 409.5h1M119 409.5h1M132 409.5h1M141 409.5h1M186 409.5h1M195 409.5h1M203 409.5h1M205 409.5h1M208 409.5h1M220 409.5h1M326 409.5h1M504 409.5h1M519 409.5h1M583 409.5h1M592 409.5h1M600 409.5h1M603 409.5h1M608 409.5h1M613 409.5h1M617 409.5h1M55 410.5h1M63 410.5h1M68 410.5h1M72 410.5h1M75 410.5h1M80 410.5h1M84 410.5h1M88 410.5h2M95 410.5h1M101 410.5h2M107 410.5h1M112 410.5h1M114 410.5h3M122 410.5h1M125 410.5h1M127 410.5h2M130 410.5h1M132 410.5h1M137 410.5h1M198 410.5h1M506 410.5h1M593 410.5h1M597 410.5h2M601 410.5h1M605 410.5h1M607 410.5h1M610 410.5h1M612 410.5h1M614 410.5h3M622 410.5h1M56 411.5h1M58 411.5h2M64 411.5h3M68 411.5h2M71 411.5h1M73 411.5h2M76 411.5h1M81 411.5h1M87 411.5h1M96 411.5h1M98 411.5h1M101 411.5h1M105 411.5h1M110 411.5h3M115 411.5h1M119 411.5h1M121 411.5h1M123 411.5h1M126 411.5h1M131 411.5h1M134 411.5h1M138 411.5h3M146 411.5h1M186 411.5h1M323 411.5h1M594 411.5h3M599 411.5h3M604 411.5h3M608 411.5h2M612 411.5h1M617 411.5h2M53 412.5h3M71 412.5h1M74 412.5h1M77 412.5h1M81 412.5h6M89 412.5h1M93 412.5h3M97 412.5h1M99 412.5h2M104 412.5h3M108 412.5h7M116 412.5h3M120 412.5h1M123 412.5h1M131 412.5h1M143 412.5h1M594 412.5h2M599 412.5h1M603 412.5h2M606 412.5h1M611 412.5h1M614 412.5h2M618 412.5h2M53 413.5h1M70 413.5h1M73 413.5h1M80 413.5h1M85 413.5h1M90 413.5h2M96 413.5h1M106 413.5h2M118 413.5h1M122 413.5h1M124 413.5h3M133 413.5h3M137 413.5h1M504 413.5h1M601 413.5h1M620 413.5h1M622 413.5h1M54 414.5h1M70 414.5h1M93 414.5h1M95 414.5h1M98 414.5h2M101 414.5h1M108 414.5h1M120 414.5h1M122 414.5h1M124 414.5h1M132 414.5h1M134 414.5h1M136 414.5h3M602 414.5h1M607 414.5h1M611 414.5h1M613 414.5h1M623 414.5h1M83 415.5h1M109 415.5h1M114 415.5h1M133 415.5h1M598 415.5h1M619 415.5h1M621 415.5h1M86 416.5h1M91 416.5h1M135 416.5h2M620 416.5h2M623 416.5h1M92 417.5h1M107 417.5h1M621 418.5h1M92 419.5h1"/>
<path stroke="#000" d="M52.5 24v421M624.5 24v421M52 24.5h573M52 444.5h573M52 129.5h573M52 234.5h573M52 339.5h573"/>
</g>
<text y="19.8" font-size="14"><tspan x="158" textLength="30.6" lengthAdjust="spacingAndGlyphs">GOES</tspan> <tspan x="196.4" textLength="69.2" lengthAdjust="spacingAndGlyphs">0.1−0.8nm</tspan> <tspan x="272" textLength="32" lengthAdjust="spacingAndGlyphs">(red),</tspan> <tspan x="312.4" textLength="29.2" lengthAdjust="spacingAndGlyphs">LYRA</tspan> <tspan x="347.2" textLength="9.8" lengthAdjust="spacingAndGlyphs">Al</tspan> <tspan x="364.4" textLength="34.6" lengthAdjust="spacingAndGlyphs">(blue)</tspan> <tspan x="407" textLength="10" lengthAdjust="spacingAndGlyphs">&amp;</tspan> <tspan x="424.4" textLength="12.6" lengthAdjust="spacingAndGlyphs">Zr</tspan> <tspan x="444.4" textLength="33.6" lengthAdjust="spacingAndGlyphs">(grey)</tspan> <tspan x="487.4" textLength="30.6" lengthAdjust="spacingAndGlyphs">proxy</tspan></text>
<text y="470" font-size="10"><tspan x="267.5" textLength="21.6" lengthAdjust="spacingAndGlyphs">Time</tspan> <tspan x="295.4" font-size="15" dy="2.4" rotate="11">/</tspan> <tspan x="307.6" dy="-2.4">h</tspan> <tspan x="318.9" textLength="20.4" lengthAdjust="spacingAndGlyphs">UTC,</tspan> <tspan x="345.5" textLength="11.7" lengthAdjust="spacingAndGlyphs">23</tspan> <tspan x="363" textLength="15.7" lengthAdjust="spacingAndGlyphs">Oct</tspan> <tspan x="384.2" textLength="24.6" lengthAdjust="spacingAndGlyphs">2020</tspan></text>
<text y="495.3" font-size="11.5"><tspan x="488.8" textLength="54.1" lengthAdjust="spacingAndGlyphs">ROB/SIDC,</tspan> <tspan x="549.7" textLength="45.7" lengthAdjust="spacingAndGlyphs">Brussels,</tspan> <tspan x="602.3" textLength="40.1" lengthAdjust="spacingAndGlyphs">Belgium</tspan></text>
<text x="52.2" y="457.9" font-size="9.9" text-anchor="middle" class="t">0</text>
<text x="171.4" y="457.9" font-size="9.9" text-anchor="middle" class="t">5</text>
<text x="286" y="457.9" font-size="9.9" textLength="10.2" lengthAdjust="spacing" class="t">10</text>
<text x="405.2" y="457.9" font-size="9.9" textLength="10.4" lengthAdjust="spacing" class="t">15</text>
<text x="523.2" y="457.9" font-size="9.9" textLength="11.8" lengthAdjust="spacing" class="t">20</text>
<text y="30" font-size="8.6"><tspan x="33.6" textLength="8.6" lengthAdjust="spacing">10</tspan><tspan x="43.2" dy="-3.8" font-size="5.8" textLength="6.8" lengthAdjust="spacing">−4</tspan></text>
<text y="133" font-size="8.6"><tspan x="33.6" textLength="8.6" lengthAdjust="spacing">10</tspan><tspan x="43.2" dy="-3.8" font-size="5.8" textLength="6.8" lengthAdjust="spacing">−5</tspan></text>
<text y="238" font-size="8.6"><tspan x="33.6" textLength="8.6" lengthAdjust="spacing">10</tspan><tspan x="43.2" dy="-3.8" font-size="5.8" textLength="6.8" lengthAdjust="spacing">−6</tspan></text>
<text y="343" font-size="8.6"><tspan x="33.6" textLength="8.6" lengthAdjust="spacing">10</tspan><tspan x="43.2" dy="-3.8" font-size="5.8" textLength="6.8" lengthAdjust="spacing">−7</tspan></text>
<text y="445" font-size="8.6"><tspan x="33.6" textLength="8.6" lengthAdjust="spacing">10</tspan><tspan x="43.2" dy="-3.8" font-size="5.8" textLength="6.8" lengthAdjust="spacing">−8</tspan></text>
<text x="631.2" y="80.0" font-size="11.4" textLength="6.6" lengthAdjust="spacingAndGlyphs">M</text>
<text x="631.2" y="185.0" font-size="11.4" textLength="6.6" lengthAdjust="spacingAndGlyphs">C</text>
<text x="631.2" y="290.0" font-size="11.4" textLength="6.6" lengthAdjust="spacingAndGlyphs">B</text>
<text x="631.2" y="395.0" font-size="11.4" textLength="6.6" lengthAdjust="spacingAndGlyphs">A</text>
<text transform="translate(26.2,289.5) rotate(-90)" y="0" font-size="9"><tspan x="0.8" textLength="19.5" lengthAdjust="spacingAndGlyphs">GOES</tspan> <tspan x="22.9" textLength="40.6" lengthAdjust="spacingAndGlyphs">Irradiance</tspan> <tspan x="68.6" dy="1.4" font-size="11.5" rotate="11">/</tspan> <tspan x="77.3" textLength="10.2" lengthAdjust="spacingAndGlyphs" dy="-1.4">(W</tspan> <tspan x="91.8" textLength="6.3" lengthAdjust="spacingAndGlyphs">m</tspan><tspan x="98.8" textLength="6.9" lengthAdjust="spacingAndGlyphs" dy="-4.2" font-size="5.8">−2</tspan><tspan x="106.3" dy="4.2">)</tspan></text>
</svg>
</body></html>
